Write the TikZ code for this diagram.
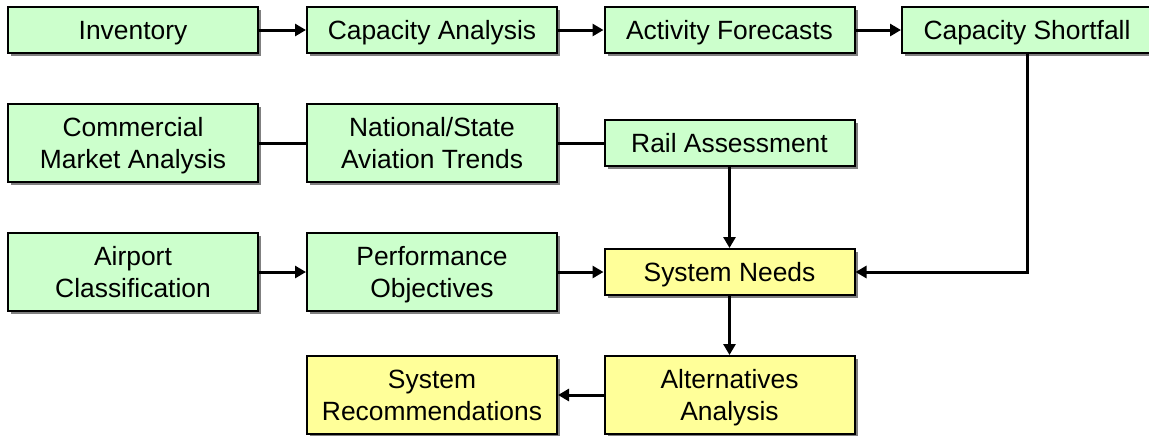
\documentclass[tikz,border=0pt]{standalone}
\usepackage{fontspec}
\setmainfont{Liberation Sans}
\usepackage{xcolor}
\usepackage{tikz}
\usetikzlibrary{
    arrows.meta,
    shadows
}
\definecolor{boxgreen}{HTML}{CCFFCC}
\definecolor{boxyellow}{HTML}{FFFF99}

\begin{document}
\begin{tikzpicture}[->,>={Triangle[length=5.5pt,width=6pt]},x=0.5pt,y=-0.5pt,line width=1.5pt,font=\fontsize{13.2}{16}\selectfont]
    \tikzstyle{box}=[draw, line width=1pt, minimum width=125pt, inner sep=0pt, align=center, text depth=0pt,
        drop shadow={shadow xshift=1.5pt, shadow yshift=-1.5pt, fill=gray, opacity=1}]
    \tikzstyle{green box}=[box, fill=boxgreen]
    \tikzstyle{yellow box}=[box, fill=boxyellow]
    \tikzstyle{one line}=[minimum height=23pt]
    \tikzstyle{two lines}=[minimum height=39pt]

    \useasboundingbox (0,0) rectangle (1149,435);

    \node[green box, one line] (inv) at (133, 30) {Inventory};
    \node[green box, one line] (capan) at (432, 30) {Capacity Analysis};
    \node[green box, one line] (fcst) at (729.5, 30) {Activity Forecasts};
    \node[green box, one line] (short) at (1027, 30) {Capacity Shortfall};

    \node[green box, two lines] (market) at (133, 143) {Commercial\\Market Analysis};
    \node[green box, two lines] (trends) at (432, 143) {National/State\\Aviation Trends};
    \node[green box, one line] (rail) at (729.5, 143) {Rail Assessment};

    \node[green box, two lines] (class) at (133, 272) {Airport\\Classification};
    \node[green box, two lines] (perf) at (432, 272) {Performance\\Objectives};
    \node[yellow box, one line] (needs) at (729.5, 272) {System Needs};

    \node[yellow box, two lines] (recs) at (432, 395) {System\\Recommendations};
    \node[yellow box, two lines] (alts) at (729.5, 395) {Alternatives\\Analysis};

    \path (inv) edge (capan)
          (capan) edge (fcst)
          (fcst) edge (short);
    \path (market) edge[-] (trends)
          (trends) edge[-] (rail)
          (rail) edge (needs);
    \path (class) edge (perf)
          (perf) edge (needs)
          (needs) edge (alts)
          (alts) edge (recs);
    \draw (short) |- (needs);
\end{tikzpicture}
\end{document}
